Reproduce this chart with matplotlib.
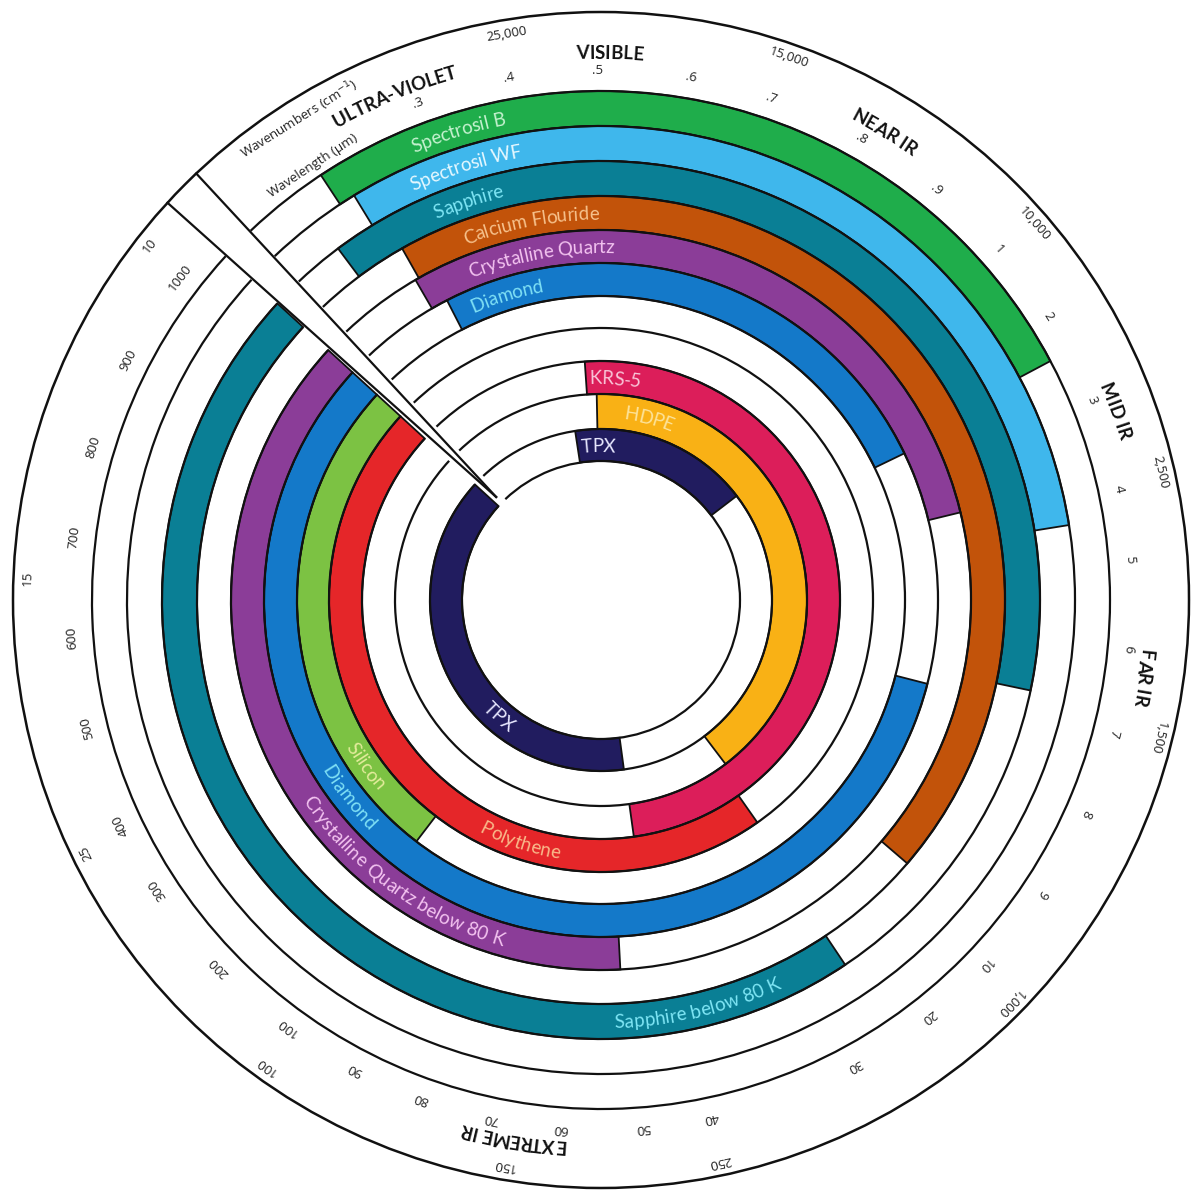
import numpy as np
import matplotlib
matplotlib.use("Agg")
import matplotlib.pyplot as plt
from matplotlib.patches import Wedge, Arc, Circle
from matplotlib.font_manager import FontProperties
from matplotlib.textpath import TextToPath

# ring radii (inner edge of each ring, last value = outer edge of outermost ring)
RING_EDGES = [139, 171, 206, 239, 272, 304, 337, 370, 404, 439, 474, 509]
R_OUTER = 588
GAP = (312.5, 316.5)  # clockwise degrees from top

# bands: ring number (1 = innermost), start / end (clockwise degrees from top)
band_ring = [11, 10, 9, 8, 7, 6, 3, 2, 1, 1, 4, 5, 6, 7, 9]
band_start = [-33.4, -31.4, -36.8, -29.5, -30.1, -27.2, -3.9, -1.2, -8.7, 172.3,
              144.9, 217.4, 104.4, 177.0, 146.2]
band_end = [62.0, 80.9, 101.9, 130.7, 76.3, 64.2, 172.1, 142.8, 52.5, 312.5,
            312.5, 312.5, 312.5, 312.5, 312.5]
band_color = ["#1fad4b", "#3fb7ec", "#0a7f95", "#c2530a", "#8b3d98", "#1479c9",
              "#dc1e5a", "#f9b115", "#211c5f", "#211c5f", "#e52629", "#7cc243",
              "#1479c9", "#8b3d98", "#0a7f95"]
band_label = ["Spectrosil B", "Spectrosil WF", "Sapphire", "Calcium Flouride",
              "Crystalline Quartz", "Diamond", "KRS-5", "HDPE", "TPX", "TPX",
              "Polythene", "Silicon", "Diamond", "Crystalline Quartz below 80 K",
              "Sapphire below 80 K"]
label_pos = [-17.0, -17.4, -18.4, -10.6, -9.9, -17.2, 3.7, 14.8, -1.0, 221.3,
             198.5, 234.8, 232.0, 216.0, 166.6]
label_color = ["#c6f2d0", "#e6f8ff", "#7fe6f5", "#f6c18c", "#f3c3f0", "#7fe0f5",
               "#f9c6d8", "#fde39a", "#e8e8ff", "#e8e8ff", "#f9b98a", "#e3eb9b",
               "#7fe0f5", "#f3c3f0", "#7fe6f5"]

# wavelength (um) tick labels
wl_labels = [".3", ".4", ".5", ".6", ".7", ".8", ".9", "1", "2", "3", "4", "5", "6",
             "7", "8", "9", "10", "20", "30", "40", "50", "60", "70", "80", "90",
             "100", "200", "300", "400", "500", "600", "700", "800", "900", "1000"]
wl_angles = [-20.2, -10.0, -0.4, 9.8, 18.8, 29.4, 39.3, 48.6, 57.6, 67.9, 77.9,
             85.6, 95.3, 104.6, 113.8, 123.7, 133.5, 141.8, 151.4, 168.0, 175.5,
             184.4, 191.9, 199.8, 207.7, 216.3, 226.2, 236.9, 244.9, 256.0, 265.9,
             276.8, 286.8, 296.9, 307.4]

# wavenumber (cm-1) tick labels
wn_labels = ["25,000", "15,000", "10,000", "2,500", "1,500", "1,000", "250", "150",
             "100", "25", "15", "10"]
wn_angles = [-9.5, 19.1, 49.0, 77.1, 103.9, 134.6, 168.0, 189.7, 215.7, 243.9,
             272.2, 308.1]

regions = ["ULTRA-VIOLET", "VISIBLE", "NEAR IR", "MID IR", "FAR IR", "EXTREME IR"]
region_angles = [-22.3, 0.9, 31.2, 69.9, 98.2, 189.4]

PX = 100 / 72.0
t2p = TextToPath()


def tw(s, fp):
    return t2p.get_text_width_height_descent(s, fp, ismath=False)[0]


def polar(r, cw):
    a = np.radians(cw)
    return r * np.sin(a), r * np.cos(a)


def curved(ax, text, r, center, fs, color, flip=False, weight="normal", family="Lato"):
    fp = FontProperties(family=family, size=fs, weight=weight)
    total = tw(text, fp)
    h = 0.36 * fs * PX
    rb = r + h if flip else r - h
    for i, ch in enumerate(text):
        if ch == " ":
            continue
        left = (tw(text[:i] + "x", fp) - tw("x", fp)) if i else 0
        c = (left + tw(ch, fp) / 2 - total / 2) * PX
        d = np.degrees(c / r)
        ang = center - d if flip else center + d
        x, y = polar(rb, ang)
        rot = 180 - ang if flip else -ang
        ax.text(x, y, ch, rotation=rot, rotation_mode="anchor", ha="center",
                va="baseline", fontproperties=fp, color=color)


def straight(ax, text, r, ang, fs, family="Open Sans", weight="normal"):
    x, y = polar(r, ang)
    ax.text(x, y, text, rotation=-ang, rotation_mode="anchor", ha="center",
            va="center", fontsize=fs, family=family, weight=weight, color="#222222")


fig = plt.figure(figsize=(12, 12), dpi=100)
ax = fig.add_axes([0, 0, 1, 1])
ax.set_xlim(-601, 599)
ax.set_ylim(-600, 600)
ax.set_aspect("equal")
ax.axis("off")

# colored bands
for ring, s, e, col in zip(band_ring, band_start, band_end, band_color):
    r_in, r_out = RING_EDGES[ring - 1], RING_EDGES[ring]
    ax.add_patch(Wedge((0, 0), r_out, 90 - e, 90 - s, width=r_out - r_in,
                       facecolor=col, edgecolor="#111111", lw=1.3, zorder=2))

# ring outlines, cut at the gap
for r in RING_EDGES:
    ax.add_patch(Arc((0, 0), 2 * r, 2 * r, theta1=90 - GAP[0],
                     theta2=90 - GAP[1] + 360, color="#111111", lw=1.6, zorder=3))
ax.add_patch(Circle((0, 0), R_OUTER, fill=False, ec="#111111", lw=1.8, zorder=3))

# gap edges
for g in GAP:
    x0, y0 = polar(RING_EDGES[0] + 8, 314.5)
    x1, y1 = polar(R_OUTER, g)
    ax.plot([x0, x1], [y0, y1], color="#111111", lw=1.6, zorder=3)

# band labels
for lab, pos, col, ring in zip(band_label, label_pos, label_color, band_ring):
    r_mid = (RING_EDGES[ring - 1] + RING_EDGES[ring]) / 2
    flip = 90 < pos % 360 < 270
    curved(ax, lab, r_mid, pos, 13.5, col, flip=flip)

# tick labels
for lab, ang in zip(wl_labels, wl_angles):
    straight(ax, lab, 530, ang, 9.5)
for lab, ang in zip(wn_labels, wn_angles):
    straight(ax, lab, 574, ang, 9.5)

for lab, ang in zip(regions, region_angles):
    curved(ax, lab, 548, ang, 13.5, "#111111", weight="bold", family="Lato")

straight(ax, "Wavenumbers (cm$^{-1}$)", 567, -32.1, 9.5)
straight(ax, "Wavelength (\u03bcm)", 521, -33.6, 9.5)

fig.savefig("out.png", dpi=100, facecolor="white")
